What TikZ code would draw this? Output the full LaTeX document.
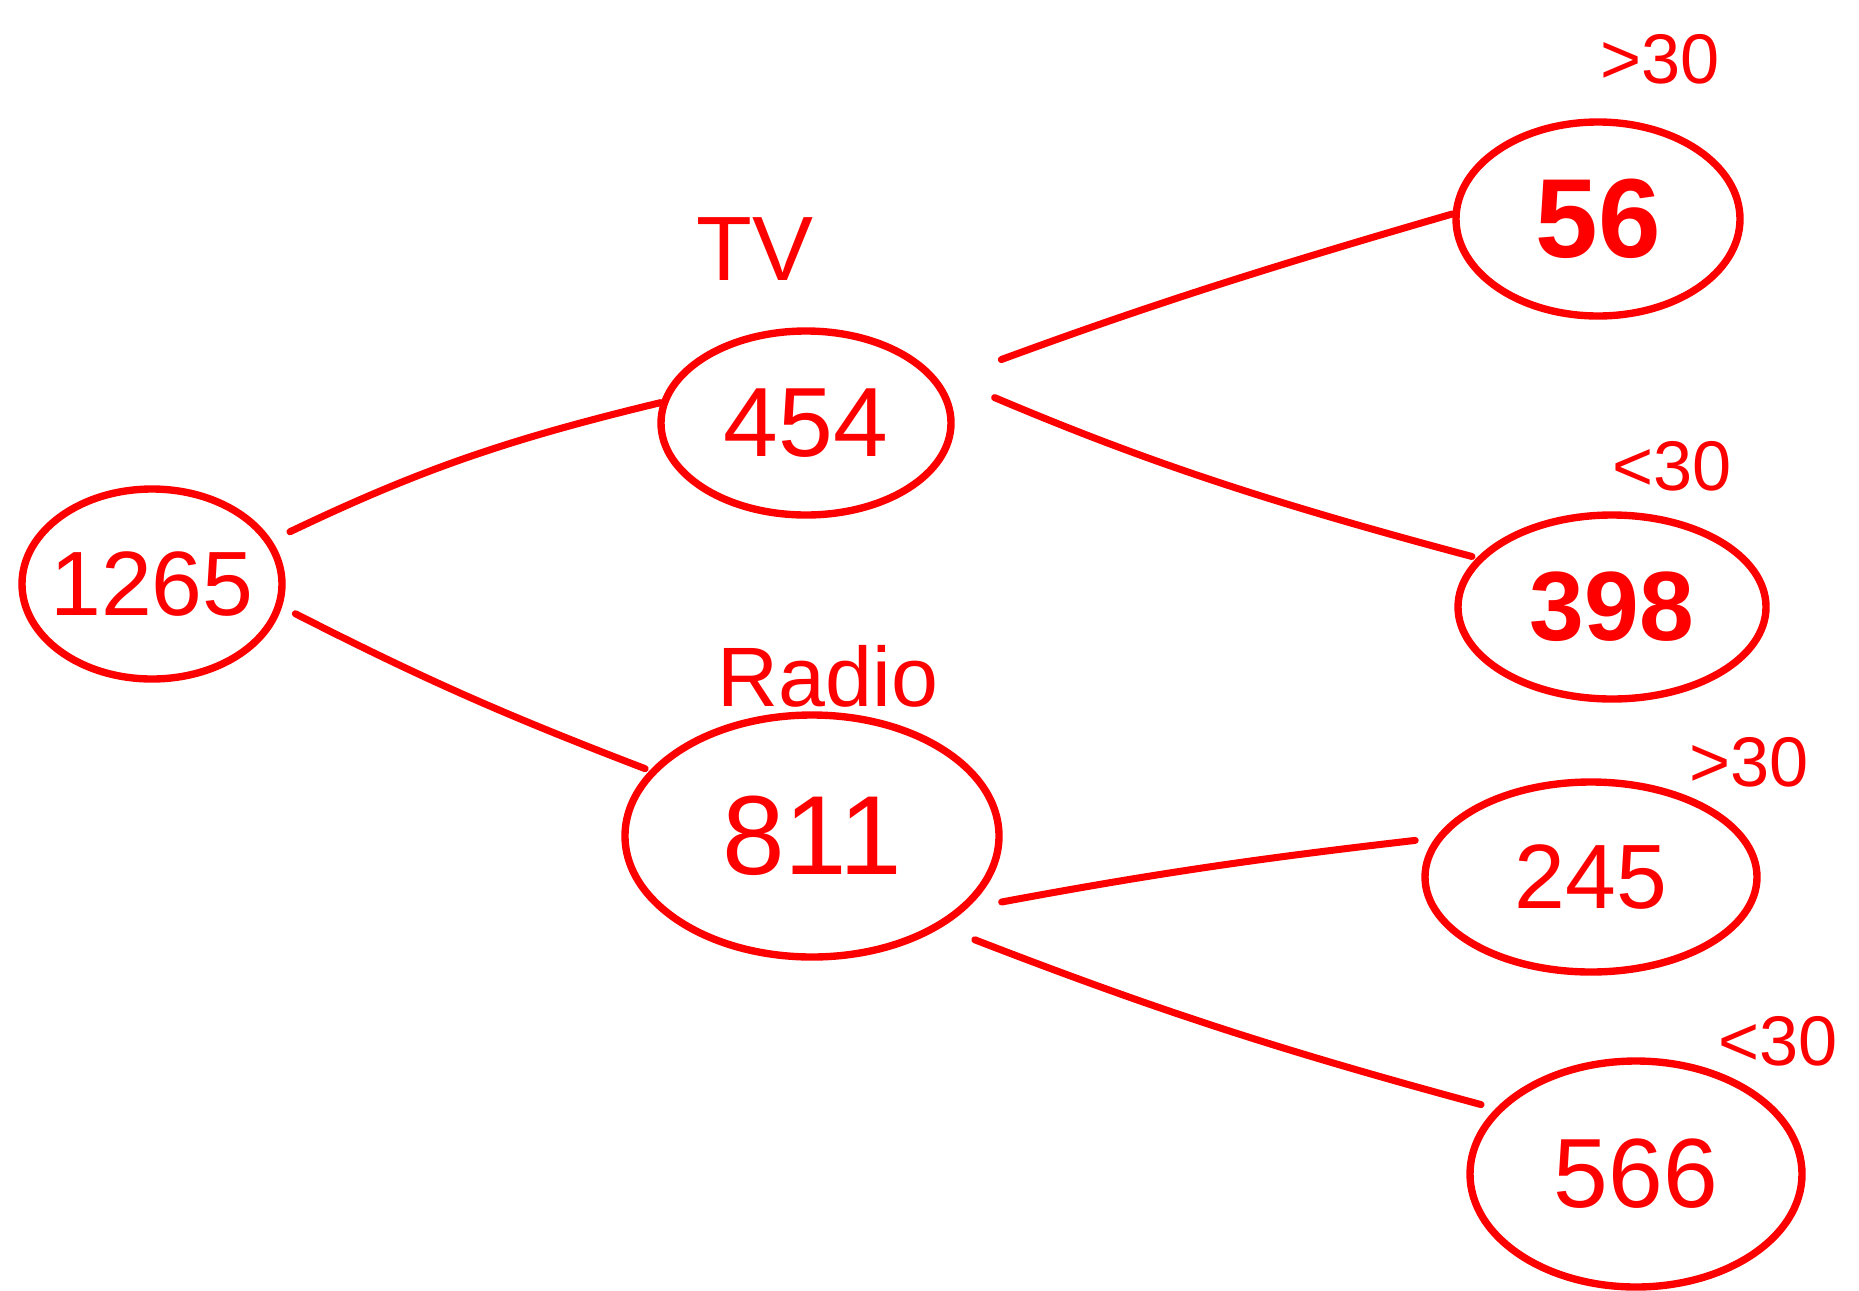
\documentclass[tikz,border=0pt]{standalone}
\usepackage{fontspec}
\setmainfont{Liberation Sans}
\usetikzlibrary{positioning}
\usetikzlibrary{shapes.geometric}
\tikzset{% hand drawn tree look
        bubble/.style={draw=red, text=red, ellipse, line width=2.1pt, inner sep=-0.6cm},
        branch/.style={red, line width=2pt, line cap=round},
        tag/.style={text=red, font=\fontsize{20}{24}\selectfont}
        }

\begin{document}
\begin{tikzpicture}
\useasboundingbox (0,0) rectangle (18.59,-12.90);
\node[bubble, minimum width=2.6cm, minimum height=1.9cm, font=\fontsize{26}{30}\selectfont] (total) at (1.52,-5.84) {1265};
\node[bubble, minimum width=2.9cm, minimum height=1.84cm, font=\fontsize{28}{32}\selectfont] (tv) at (8.06,-4.23) {454};
\node[bubble, minimum width=3.74cm, minimum height=2.42cm, font=\fontsize{32}{38}\selectfont] (radio) at (8.12,-8.36) {811};
\node[bubble, minimum width=2.84cm, minimum height=1.94cm, font=\bfseries\fontsize{32}{38}\selectfont] (tvold) at (15.98,-2.19) {56};
\node[bubble, minimum width=3.08cm, minimum height=1.84cm, font=\bfseries\fontsize{28}{32}\selectfont] (tvyoung) at (16.12,-6.07) {398};
\node[bubble, minimum width=3.32cm, minimum height=1.9cm, font=\fontsize{26}{30}\selectfont] (radioold) at (15.91,-8.77) {245};
\node[bubble, minimum width=3.32cm, minimum height=2.26cm, font=\fontsize{28}{32}\selectfont] (radioyoung) at (16.36,-11.74) {566};

% labels over the bubbles
\node[tag, font=\fontsize{26}{30}\selectfont] (tvtag) at (7.55,-2.49) {TV};
\node[tag, font=\fontsize{24}{28}\selectfont] (radiotag) at (8.28,-6.76) {Radio};
\node[tag] (oldtag1) at (16.60,-0.59) {>30};
\node[tag] (youngtag1) at (16.72,-4.66) {<30};
\node[tag] (oldtag2) at (17.49,-7.62) {>30};
\node[tag] (youngtag2) at (17.78,-10.41) {<30};

\draw[branch, shorten <=0.2cm] (total.20) to[bend left=6] (tv.172);
\draw[branch, shorten <=0.15cm, shorten >=0.05cm] (total.-10) to[bend right=3] (radio.158);
\draw[branch, shorten <=0.65cm] (tv.17) to[bend left=2] (tvold.178);
\draw[branch, shorten <=0.7cm, shorten >=0.05cm] (tv.23) to[bend right=4] (tvyoung.160);
\draw[branch, shorten <=0.35cm, shorten >=0.2cm] (radio.-25) to[bend left=2] (radioold.166);
\draw[branch, shorten <=0.35cm, shorten >=0.15cm] (radio.-35) to[bend right=3] (radioyoung.155);
\end{tikzpicture}
\end{document}
